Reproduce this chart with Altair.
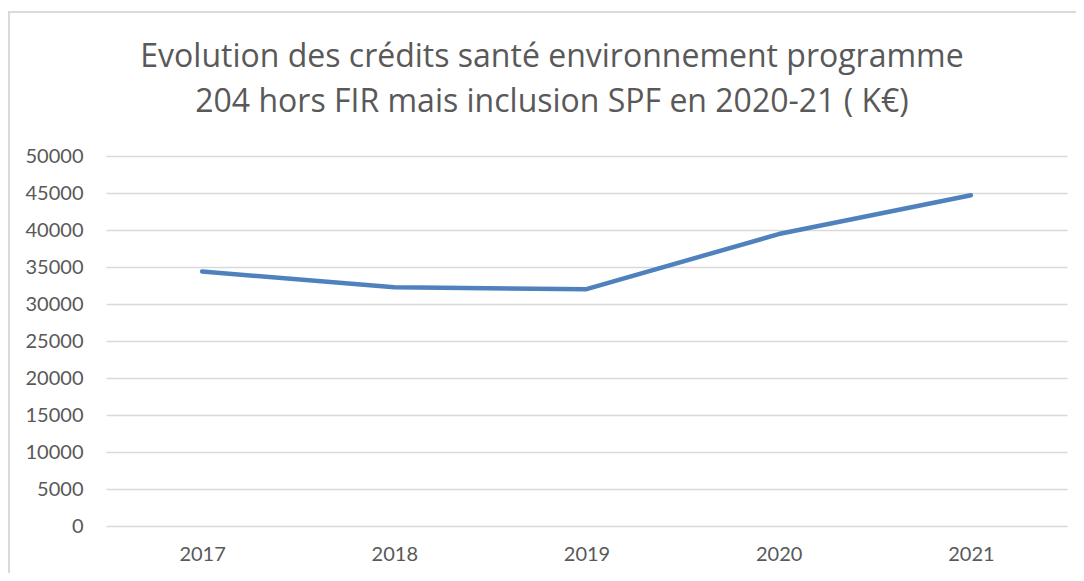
import altair as alt
import pandas as pd

years = ["2017", "2018", "2019", "2020", "2021"]
values = [34400, 32250, 32000, 39450, 44700]
y_ticks = [0, 5000, 10000, 15000, 20000, 25000, 30000, 35000, 40000, 45000, 50000]
title_lines = [
    "Evolution des crédits santé environnement programme",
    "204 hors FIR mais inclusion SPF en 2020-21 ( K€)",
]

df = pd.DataFrame({"year": years, "value": values})
FONT = "Lato, 'Open Sans', sans-serif"
TFONT = "'Open Sans', Lato, sans-serif"
TXT = "#595959"

line = alt.Chart(df).mark_line(color="#4F81BD", strokeWidth=4.5, strokeCap="round", strokeJoin="round").encode(
    x=alt.X("year:O", title=None,
            axis=alt.Axis(labelAngle=0, domain=False, ticks=False, grid=False,
                          labelFont=FONT, labelFontSize=20, labelColor=TXT, labelPadding=18)),
    y=alt.Y("value:Q", title=None,
            scale=alt.Scale(domain=[0, 50000], nice=False),
            axis=alt.Axis(values=y_ticks, format="d", domain=False, ticks=False, grid=True,
                          gridColor="#d9d9d9", gridWidth=1.5,
                          labelFont=FONT, labelFontSize=20, labelColor=TXT, labelPadding=23)),
)

frame = alt.Chart(pd.DataFrame({"a": [0]})).mark_rect(fill=None, stroke="#d9d9d9", strokeWidth=2).encode(
    x=alt.value(-97), x2=alt.value(1100), y=alt.value(-144), y2=alt.value(500)
)

t1 = alt.Chart(pd.DataFrame({"a": [0]})).mark_text(
    text=title_lines[0], font=TFONT, fontSize=32, fontWeight="normal", color=TXT, align="center", baseline="alphabetic"
).encode(x=alt.value(446), y=alt.value(-89))
t2 = alt.Chart(pd.DataFrame({"a": [0]})).mark_text(
    text=title_lines[1], font=TFONT, fontSize=32, fontWeight="normal", color=TXT, align="center", baseline="alphabetic"
).encode(x=alt.value(446), y=alt.value(-44))

chart = alt.layer(frame, line, t1, t2).properties(
    width=961,
    height=370,
    padding={"left": 98, "top": 148, "right": 9, "bottom": 47},
    autosize=alt.AutoSizeParams(type="none"),
).configure_view(stroke=None)

chart.save("out.html", embed_options={"renderer": "svg", "actions": False})
